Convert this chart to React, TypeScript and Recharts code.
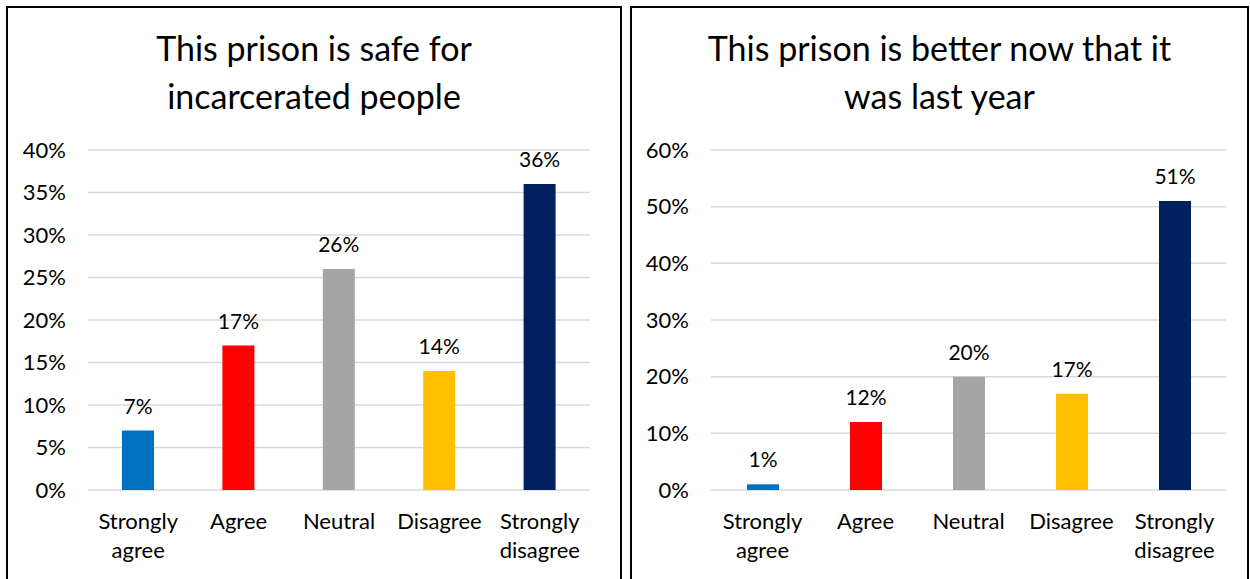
import React from 'react';
import { BarChart, Bar, XAxis, YAxis, CartesianGrid, Cell, LabelList } from 'recharts';

const categories = ['Strongly agree', 'Agree', 'Neutral', 'Disagree', 'Strongly disagree'];
const safeValues = [7, 17, 26, 14, 36];
const betterValues = [1, 12, 20, 17, 51];
const barColors = ['#0070c0', '#ff0000', '#a5a5a5', '#ffc000', '#002060'];
const safeTicks = [0, 5, 10, 15, 20, 25, 30, 35, 40];
const betterTicks = [0, 10, 20, 30, 40, 50, 60];

const FONT = 'Lato, "Noto Sans", sans-serif';

const CategoryTick = (props: any) => {
  const { x, y, payload } = props;
  const words = String(payload.value).split(' ');
  return (
    <text x={x} y={y} textAnchor="middle" fill="#000" fontSize={22} fontFamily={FONT}>
      {words.map((w: string, i: number) => (
        <tspan key={i} x={x} dy={i === 0 ? 31 : 29}>
          {w}
        </tspan>
      ))}
    </text>
  );
};

interface PanelProps {
  values: number[];
  ticks: number[];
  title: string[];
  left: number;
  width: number;
  marginLeft: number;
  marginRight: number;
}

function SurveyPanel({ values, ticks, title, left, width, marginLeft, marginRight }: PanelProps) {
  const data = categories.map((c, i) => ({ category: c, value: values[i] }));
  return (
    <>
      <div
        style={{
          position: 'absolute',
          left,
          top: 6,
          width,
          height: 600,
          border: '2px solid #000',
          boxSizing: 'border-box',
        }}
      />
      <div
        style={{
          position: 'absolute',
          left,
          top: 24,
          width,
          textAlign: 'center',
          fontFamily: FONT,
          fontSize: 34,
          lineHeight: '48px',
          color: '#000',
        }}
      >
        {title.map((t, i) => (
          <div key={i}>{t}</div>
        ))}
      </div>
      <div style={{ position: 'absolute', left, top: 0 }}>
        <BarChart
          width={width}
          height={579}
          data={data}
          margin={{ top: 150, right: marginRight, left: marginLeft, bottom: 0 }}
        >
          <CartesianGrid vertical={false} stroke="#d9d9d9" strokeWidth={1.5} />
          <XAxis
            dataKey="category"
            axisLine={false}
            tickLine={false}
            height={89}
            interval={0}
            tick={<CategoryTick />}
          />
          <YAxis
            domain={[ticks[0], ticks[ticks.length - 1]]}
            ticks={ticks}
            axisLine={false}
            tickLine={false}
            width={60}
            tickMargin={16}
            tickFormatter={(v: number) => `${v}%`}
            tick={{ fill: '#000', fontSize: 22, fontFamily: FONT }}
          />
          <Bar dataKey="value" barSize={32} isAnimationActive={false}>
            {data.map((d, i) => (
              <Cell key={d.category} fill={barColors[i]} />
            ))}
            <LabelList
              dataKey="value"
              position="top"
              offset={17}
              formatter={(v: any) => `${v}%`}
              style={{ fill: '#000', fontSize: 21, fontFamily: FONT }}
            />
          </Bar>
        </BarChart>
      </div>
    </>
  );
}

export default function App() {
  return (
    <div
      style={{
        position: 'absolute',
        left: 0,
        top: 0,
        width: 1250,
        height: 579,
        overflow: 'hidden',
        background: '#fff',
      }}
    >
      <SurveyPanel
        values={safeValues}
        ticks={safeTicks}
        title={['This prison is safe for', 'incarcerated people']}
        left={6}
        width={616}
        marginLeft={22}
        marginRight={32}
      />
      <SurveyPanel
        values={betterValues}
        ticks={betterTicks}
        title={['This prison is better now that it', 'was last year']}
        left={630}
        width={619}
        marginLeft={21}
        marginRight={23}
      />
    </div>
  );
}
